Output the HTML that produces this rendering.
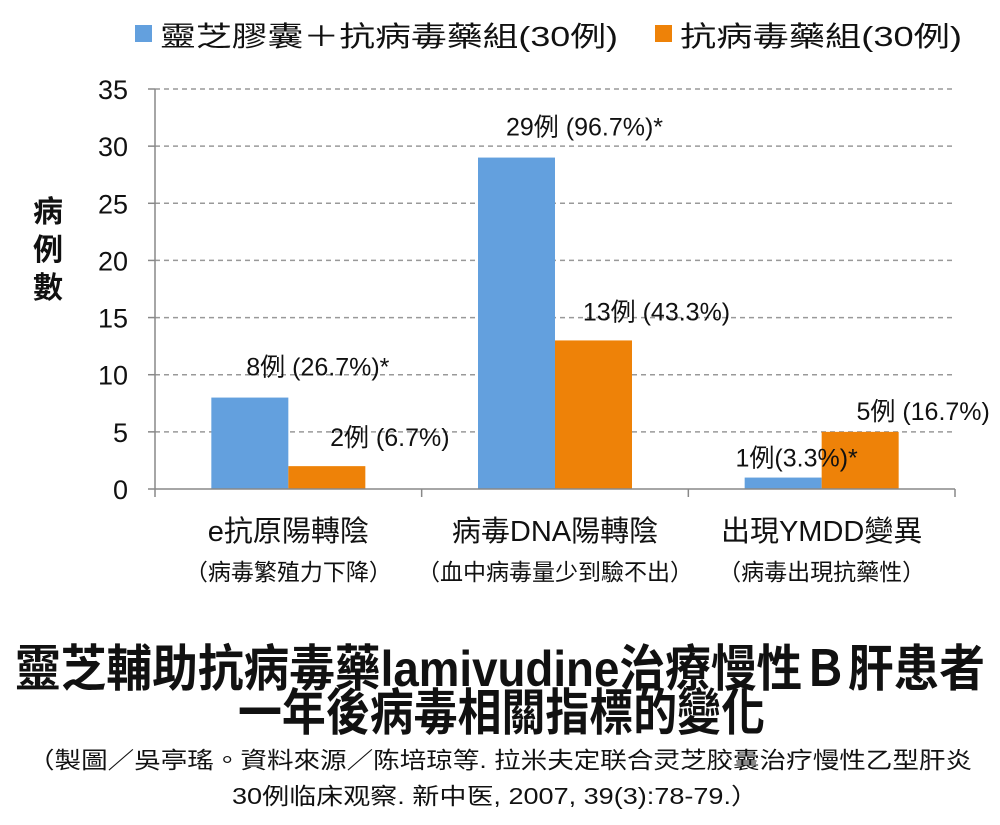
<!DOCTYPE html>
<html><head><meta charset="utf-8"><style>
html,body{margin:0;padding:0;background:#fff;}
svg text{font-family:"Liberation Sans","Noto Sans CJK TC",sans-serif;fill:#111;}
</style></head><body>
<svg id="chart" width="1000" height="820" viewBox="0 0 1000 820" xmlns="http://www.w3.org/2000/svg">
<g>
<rect x="135" y="25" width="17" height="17" fill="#63A0DE"/>
<text x="160" y="46" font-size="28" textLength="458" lengthAdjust="spacingAndGlyphs">靈芝膠囊＋抗病毒藥組(30例)</text>
<rect x="655" y="25" width="17" height="17" fill="#EE8208"/>
<text x="680" y="46" font-size="28" textLength="282" lengthAdjust="spacingAndGlyphs">抗病毒藥組(30例)</text>
</g>
<g id="grid"></g>
<g id="yticks"></g>
<g id="bars"></g>
<g id="xaxis"></g>
<g font-size="30" font-weight="bold">
<text x="48" y="222" text-anchor="middle">病</text>
<text x="48" y="260" text-anchor="middle">例</text>
<text x="48" y="298" text-anchor="middle">數</text>
</g>
<text x="15" y="686" font-size="50" font-weight="bold" textLength="970" lengthAdjust="spacingAndGlyphs">靈芝輔助抗病毒藥lamivudine治療慢性Ｂ肝患者</text>
<text x="238" y="730" font-size="50" font-weight="bold" textLength="527" lengthAdjust="spacingAndGlyphs">一年後病毒相關指標的變化</text>
<text x="28" y="768" font-size="23" textLength="944" lengthAdjust="spacingAndGlyphs">（製圖／吳亭瑤。資料來源／陈培琼等. 拉米夫定联合灵芝胶囊治疗慢性乙型肝炎</text>
<text x="232" y="804" font-size="23" textLength="526" lengthAdjust="spacingAndGlyphs">30例临床观察. 新中医, 2007, 39(3):78-79.）</text>
</svg>
<script>
const categories=["e抗原陽轉陰","病毒DNA陽轉陰","出現YMDD變異"];
const subLabels=["（病毒繁殖力下降）","（血中病毒量少到驗不出）","（病毒出現抗藥性）"];
const comboValues=[8,29,1];
const antiviralValues=[2,13,5];
const comboLabels=["8例 (26.7%)*","29例 (96.7%)*","1例(3.3%)*"];
const antiviralLabels=["2例 (6.7%)","13例 (43.3%)","5例 (16.7%)"];
const yTicks=[0,5,10,15,20,25,30,35];
const NS="http://www.w3.org/2000/svg";
const X0=155,X1=955,Y0=489,Y1=89,YMAX=35;
const y=v=>Y0-(v/YMAX)*(Y0-Y1);
const band=(X1-X0)/categories.length;
const cx=i=>X0+band*(i+0.5);
const BW=77;
function mk(tag,attrs,parent){const e=document.createElementNS(NS,tag);for(const k in attrs)e.setAttribute(k,attrs[k]);parent.appendChild(e);return e;}
const grid=document.getElementById('grid'),yt=document.getElementById('yticks'),bars=document.getElementById('bars'),xa=document.getElementById('xaxis');
yTicks.forEach(t=>{
 if(t>0){const l=mk('line',{x1:X0,x2:X1,y1:y(t),y2:y(t),stroke:'#999','stroke-width':1.5,'stroke-dasharray':'5,4'},grid);
 
 }
 const tk=mk('line',{x1:X0-7,x2:X0,y1:y(t),y2:y(t),stroke:'#888','stroke-width':1.5},yt);
 
 
 const tx=mk('text',{x:128,y:y(t)+10,'text-anchor':'end','font-size':27},yt);
 
 
 tx.textContent=t;
});
const ax=mk('line',{x1:X0,x2:X0,y1:Y1,y2:Y0,stroke:'#888','stroke-width':1.5},yt);


categories.forEach((c,i)=>{
 const b1=mk('rect',{x:cx(i)-BW,y:y(comboValues[i]),width:BW,height:Y0-y(comboValues[i]),fill:'#63A0DE'},bars);
 
 
 const b2=mk('rect',{x:cx(i),y:y(antiviralValues[i]),width:BW,height:Y0-y(antiviralValues[i]),fill:'#EE8208'},bars);
 
 
 const lowCombo=comboValues[i]<antiviralValues[i];
 const l1x=lowCombo?cx(i)-25:cx(i)-BW/2+68;
 const l1=mk('text',{x:l1x,y:y(comboValues[i])-(lowCombo?11:22),'text-anchor':'middle','font-size':25},bars);
 
 
 l1.textContent=comboLabels[i];
 const l2=mk('text',{x:cx(i)+BW/2+63,y:y(antiviralValues[i])-(lowCombo?12:20),'text-anchor':'middle','font-size':25},bars);
 
 
 l2.textContent=antiviralLabels[i];
 const c1=mk('text',{x:cx(i),y:541,'text-anchor':'middle','font-size':29},xa);
 
 
 c1.textContent=c;
 const c2=mk('text',{x:cx(i),y:580,'text-anchor':'middle','font-size':23},xa);
 
 
 c2.textContent=subLabels[i];
});
const base=mk('line',{x1:X0,x2:X1,y1:Y0,y2:Y0,stroke:'#888','stroke-width':1.5},xa);


for(let i=0;i<=categories.length;i++){
 const t=mk('line',{x1:X0+band*i,x2:X0+band*i,y1:Y0,y2:Y0+8,stroke:'#888','stroke-width':1.5},xa);
 
 
}
</script>
</body></html>
